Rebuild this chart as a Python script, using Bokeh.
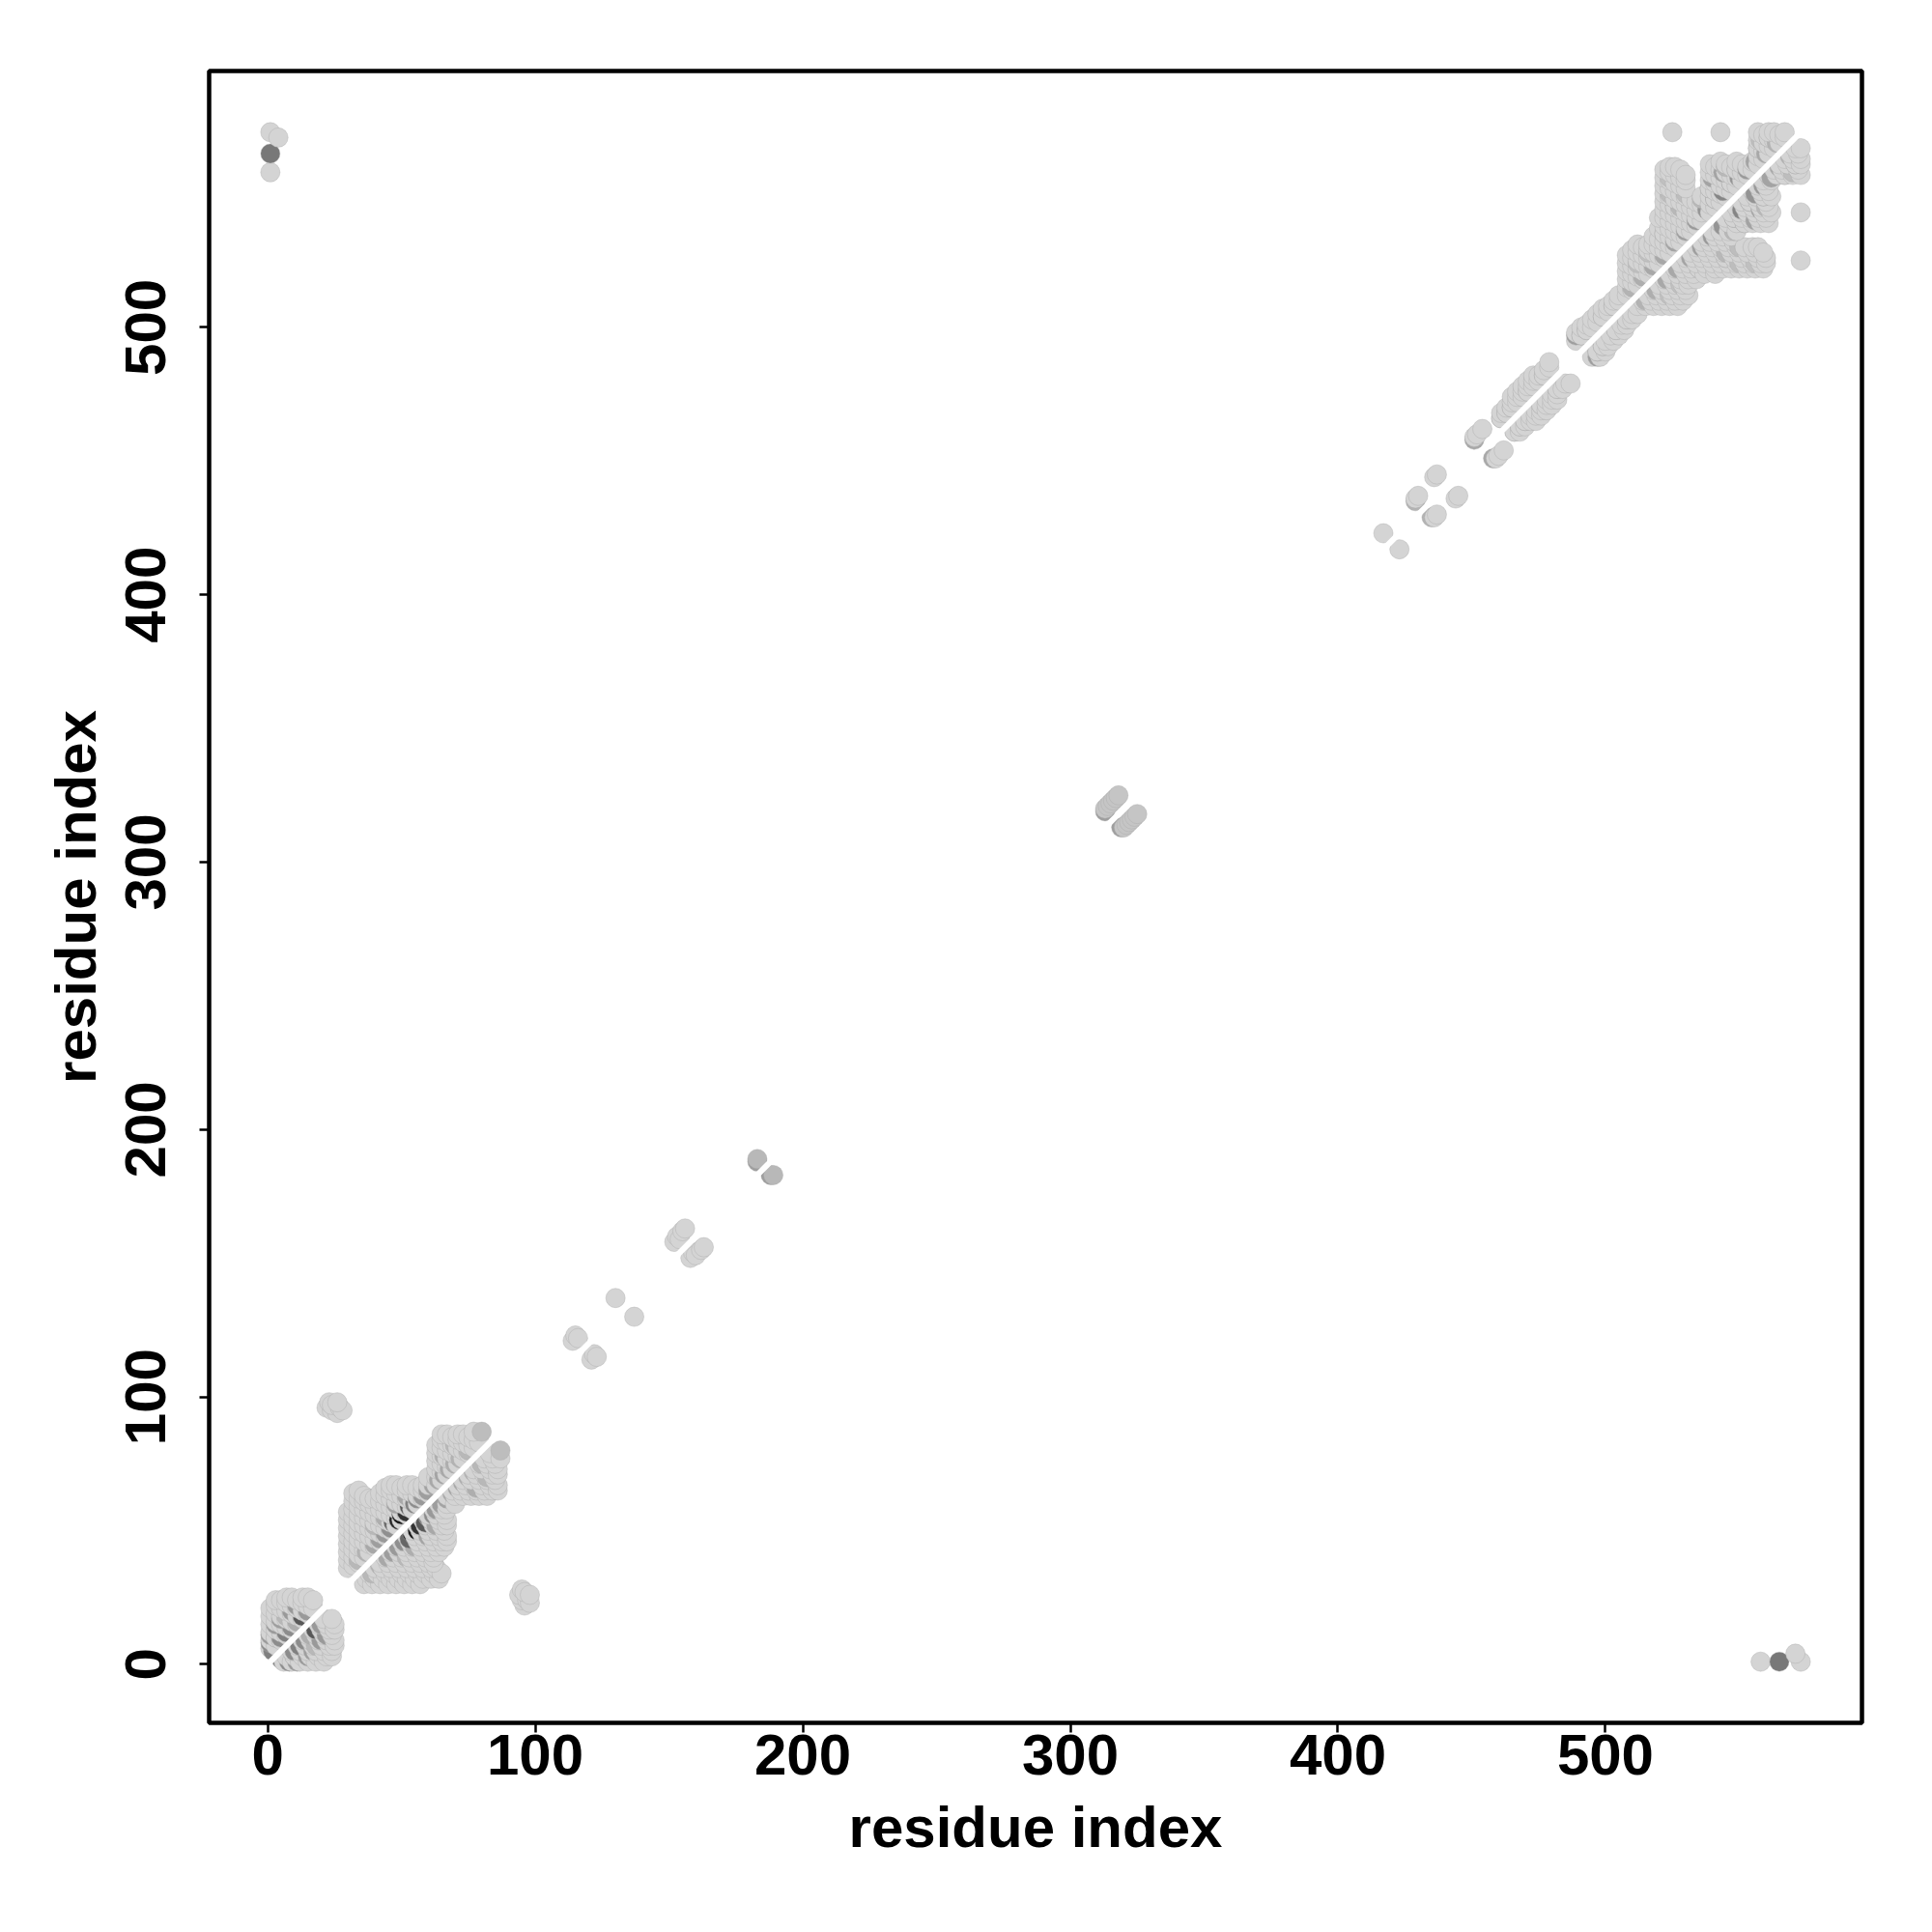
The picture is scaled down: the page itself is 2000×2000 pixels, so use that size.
from bokeh.plotting import figure
from bokeh.models import Range1d, FixedTicker, LinearColorMapper, ColumnDataSource
from bokeh.palettes import Greys256
from bokeh.embed import file_html
from bokeh.resources import INLINE

# ---------------- data: residue contacts (i < j), partner lists per residue ----------------
# grey level of a contact: 0 = black, 1 = white
LIGHT = 0.83

N_TERM_ROWS = [
    (1, [6, 9, 12, 15, 18, 21]),
    (3, [7, 10, 13, 16, 19, 22, 24]),
    (5, [9, 12, 15, 18, 21, 24]),
    (7, [11, 14, 17, 20, 23, 25]),
    (9, [13, 16, 19, 22, 25]),
    (11, [15, 18, 21, 24]),
    (13, [17, 20, 23, 25]),
    (15, [19, 22, 25]),
    (17, [21, 24]),
]

DOMAIN1_ROWS = [
    (30, [36, 39, 42, 45, 48, 51, 54, 57]),
    (32, [37, 40, 43, 46, 49, 52, 55, 58, 61, 64]),
    (34, [38, 41, 44, 47, 50, 53, 56, 59, 62, 65]),
    (36, [40, 43, 46, 49, 52, 55, 58, 61, 63]),
    (38, [42, 45, 48, 51, 54, 57, 60, 62]),
    (40, [44, 47, 50, 53, 56, 59, 62]),
    (42, [46, 49, 52, 55, 58, 61, 64]),
    (44, [48, 51, 54, 57, 60, 63, 66]),
    (46, [50, 53, 56, 59, 62, 65, 67]),
    (48, [52, 55, 58, 61, 64, 67]),
    (50, [54, 57, 60, 63, 66]),
    (52, [56, 59, 62, 65, 67]),
    (54, [58, 61, 64, 67]),
    (56, [60, 63, 66]),
    (58, [62, 65, 67]),
    (60, [64, 67, 70]),
    (63, [67, 70, 73, 76, 79, 82]),
    (65, [69, 72, 75, 78, 81, 84, 86]),
    (67, [71, 74, 77, 80, 83, 86]),
    (69, [73, 76, 79, 82, 85]),
    (71, [75, 78, 81, 84, 86]),
    (73, [77, 80, 83, 86]),
    (75, [79, 82, 85]),
    (77, [81, 84, 87]),
    (79, [83]),
]

LONG_RANGE_ROWS = [
    (22, [96]), (23, [98]), (24, [95, 97]), (26, [94, 98]), (27, [96]), (28, [95]),
    (114, [121]), (115, [123]), (116, [122]),
    (130, [137]),
    (152, [158]), (153, [160]), (154, [159]), (155, [162]), (156, [163]),
    (417, [423]),
    (429, [436]), (430, [437]), (436, [444]), (437, [445]),
    (451, [459]), (452, [460]), (454, [462]),
    (1, [558, 573]), (4, [571]),
]

MID_ROWS = [
    (183, [189]),
]
MID_GREY = 0.72

HINGE_ROWS = [
    (313, [320]), (314, [321]), (315, [322]), (316, [323]), (317, [324]), (318, [325]),
]
HINGE_GREY = 0.77

DOMAIN2_ROWS = [
    (461, [466, 468]), (463, [468, 470]), (465, [470, 472, 474]), (467, [472, 474, 476]),
    (469, [474, 476, 478]), (471, [476, 478, 480]), (473, [478, 480, 482]), (475, [480, 482]),
    (477, [482, 484]), (479, [485, 487]),
    (489, [495, 498]), (491, [497, 500]), (493, [499, 501]), (495, [500, 503]),
    (497, [502, 505]), (499, [504, 507]), (501, [506, 508]), (503, [508, 510]),
    (505, [510, 512]),
    (508, [512, 515, 518, 521, 524, 527]),
    (510, [514, 517, 520, 523, 526, 529]),
    (512, [516, 519, 522, 525, 528, 531]),
    (514, [518, 521, 524, 527, 530]),
    (516, [520, 523, 526, 529, 531]),
    (518, [522, 525, 528, 531, 534]),
    (520, [524, 527, 530, 533, 537, 541]),
    (522, [526, 529, 532, 535, 538, 541, 544, 547, 550, 553, 556, 559]),
    (524, [528, 531, 534, 537, 540, 543, 546, 549, 552, 555, 558, 560]),
    (526, [530, 533, 536, 539, 542, 545, 548, 551, 554, 557, 560]),
    (528, [532, 535, 538, 541, 544, 547, 550, 553, 556, 559]),
    (530, [534, 537, 540, 543, 546, 549, 552, 555, 557]),
    (532, [536, 539, 542, 545, 548]),
    (534, [538, 541, 544, 547]),
    (536, [540, 543, 546, 549]),
    (539, [543, 546, 549, 552, 555, 558, 561]),
    (541, [545, 548, 551, 554, 557, 560]),
    (543, [547, 550, 553, 556, 559, 562]),
    (545, [549, 552, 555, 558, 561]),
    (547, [551, 554, 557, 560]),
    (549, [553, 556, 559, 562]),
    (551, [555, 558, 561]),
    (553, [557, 560]),
    (555, [559, 562]),
    (557, [561, 564, 567, 570, 573]),
    (559, [563, 566, 569, 572]),
    (561, [565, 568, 571, 573]),
    (563, [567, 570, 573]),
    (565, [569, 572]),
    (567, [571, 573]),
    (525, [573]), (543, [573]),
]

# stronger (darker) contacts
STRONG_I = [1, 1, 2, 3, 5, 7, 9, 9, 11, 13, 15, 5, 3, 7, 11,
            34, 37, 40, 42, 44, 46, 47, 49, 50, 52, 53, 55, 56, 58, 60, 62, 64, 66, 68, 70, 72, 75, 80,
            44, 48, 52, 40, 66, 70,
            183, 313, 429, 451, 461, 463, 489, 491,
            465, 471, 477, 493, 499, 503,
            510, 514, 518, 522, 526, 530, 534, 538, 541, 544, 547, 550, 553, 556, 560, 564,
            528, 540, 524, 544,
            522, 526, 530, 524, 545, 549, 558, 512, 516, 536, 539, 557, 561,
            1]
STRONG_J = [8, 11, 5, 15, 10, 12, 14, 20, 22, 18, 20, 17, 10, 18, 16,
            39, 42, 45, 47, 49, 51, 53, 54, 56, 57, 59, 60, 62, 63, 65, 67, 69, 71, 73, 75, 77, 80, 87,
            55, 60, 63, 52, 78, 82,
            188, 319, 435, 458, 466, 468, 497, 497,
            470, 476, 482, 499, 504, 508,
            515, 519, 523, 527, 532, 536, 540, 544, 548, 551, 554, 556, 559, 562, 565, 569,
            545, 556, 550, 558,
            535, 545, 550, 556, 560, 559, 570, 524, 528, 548, 552, 567, 571,
            565]
STRONG_GREY = [0.55, 0.60, 0.50, 0.60, 0.55, 0.50, 0.55, 0.60, 0.60, 0.35, 0.60, 0.62, 0.70, 0.72, 0.68,
               0.72, 0.70, 0.66, 0.62, 0.60, 0.56, 0.40, 0.15, 0.08, 0.20, 0.35, 0.50, 0.55, 0.60, 0.62, 0.64,
               0.66, 0.64, 0.66, 0.68, 0.70, 0.72, 0.74,
               0.68, 0.64, 0.66, 0.72, 0.68, 0.72,
               0.62, 0.62, 0.70, 0.66, 0.70, 0.72, 0.62, 0.64,
               0.72, 0.72, 0.74, 0.70, 0.72, 0.74,
               0.70, 0.68, 0.66, 0.66, 0.64, 0.62, 0.60, 0.58, 0.55, 0.52, 0.55, 0.58, 0.60, 0.64, 0.66, 0.70,
               0.72, 0.64, 0.74, 0.64,
               0.74, 0.73, 0.74, 0.75, 0.72, 0.72, 0.74, 0.75, 0.75, 0.72, 0.72, 0.73, 0.74,
               0.47]

TICKS = [0, 100, 200, 300, 400, 500]
AXIS_TITLE = "residue index"

# ---------------- assemble symmetric map ----------------
pts = []  # (x, y, grey)
for i, j, g in zip(STRONG_I, STRONG_J, STRONG_GREY):
    pts.append((i, j, g))
    pts.append((j, i, g))
for rows, grey in [(N_TERM_ROWS, LIGHT), (DOMAIN1_ROWS, LIGHT), (LONG_RANGE_ROWS, LIGHT),
                   (MID_ROWS, MID_GREY), (HINGE_ROWS, HINGE_GREY), (DOMAIN2_ROWS, LIGHT)]:
    for i, js in rows:
        for j in js:
            pts.append((i, j, grey))
            pts.append((j, i, grey))

# draw from lower-left to upper-right so each disc's lower-left rim stays visible
pts.sort(key=lambda t: (t[0] + t[1], t[0]))
xs = [t[0] for t in pts]
ys = [t[1] for t in pts]
gs = [t[2] for t in pts]

lo, hi = min(xs), max(xs)
pad = 0.04 * (hi - lo)

mapper = LinearColorMapper(palette=Greys256, low=0, high=1)

p = figure(width=1992, height=1992, output_backend="svg", toolbar_location=None,
           x_range=Range1d(lo - pad, hi + pad), y_range=Range1d(lo - pad, hi + pad),
           min_border_left=216, min_border_right=65, min_border_top=73, min_border_bottom=209)
p.background_fill_color = "white"
p.border_fill_color = "white"
p.grid.visible = False
p.outline_line_color = "black"
p.outline_line_width = 4.5

src = ColumnDataSource(dict(x=xs, y=ys, g=gs))
p.scatter("x", "y", source=src, size=20, marker="circle",
          fill_color={"field": "g", "transform": mapper}, line_color="#a9a9a9",
          line_alpha=0.4, line_width=1)

# diagonal (self) excluded band
p.line([lo, hi], [lo, hi], line_color="white", line_width=6)

for ax in (p.xaxis[0], p.yaxis[0]):
    ax.ticker = FixedTicker(ticks=TICKS)
    ax.axis_label = AXIS_TITLE
    ax.axis_line_color = None
    ax.major_tick_line_color = "black"
    ax.major_tick_line_width = 2.5
    ax.major_tick_out = 10
    ax.major_tick_in = 0
    ax.minor_tick_line_color = None
    ax.major_label_text_font = "Liberation Sans"
    ax.major_label_text_font_style = "bold"
    ax.major_label_text_font_size = "60px"
    ax.major_label_text_color = "black"
    ax.axis_label_text_font = "Liberation Sans"
    ax.axis_label_text_font_style = "bold"
    ax.axis_label_text_font_size = "60px"
    ax.axis_label_text_color = "black"

p.xaxis.major_label_standoff = 2
p.xaxis.axis_label_standoff = 18
p.yaxis.major_label_orientation = "vertical"
p.yaxis.major_label_standoff = 35
p.yaxis.axis_label_standoff = 16

open("out.html", "w").write(file_html(p, INLINE))
